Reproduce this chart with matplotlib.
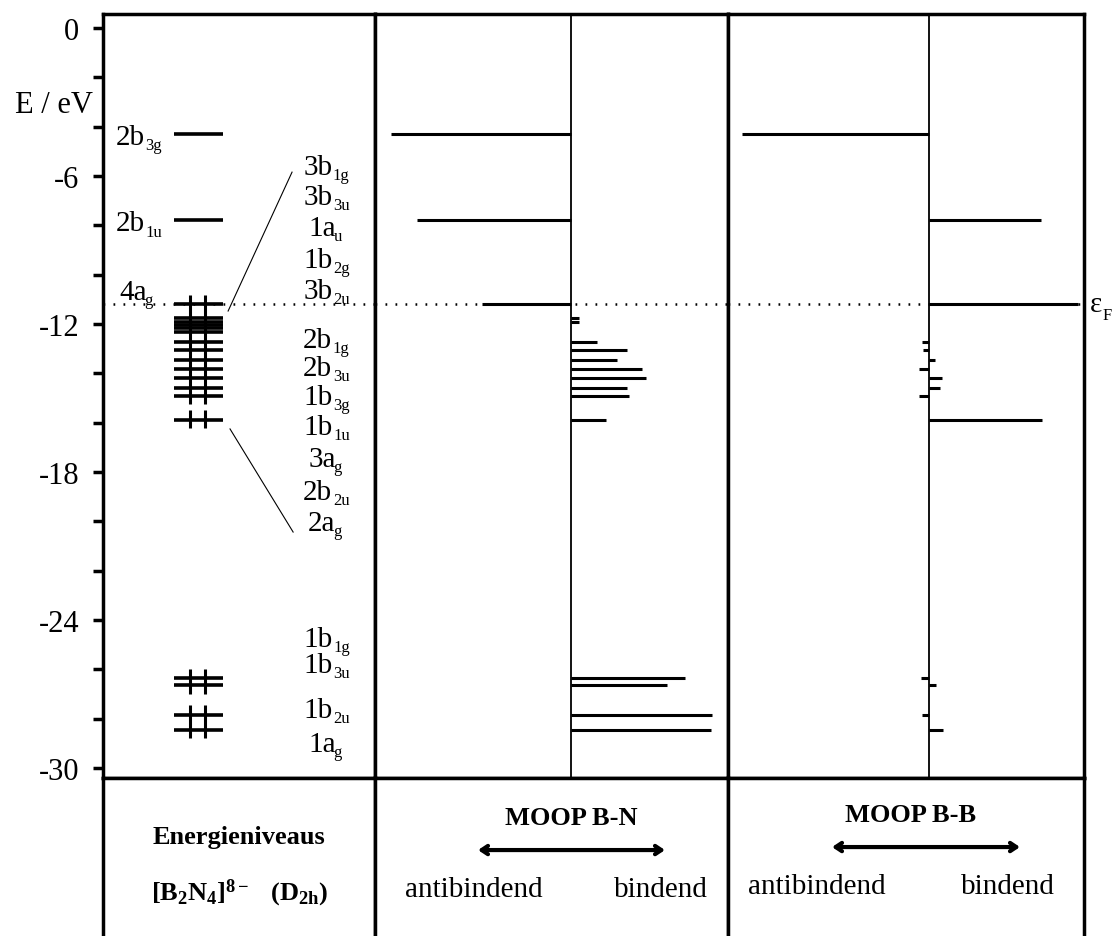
import matplotlib.pyplot as plt
from matplotlib.ticker import MultipleLocator
from matplotlib.transforms import offset_copy

plt.rcParams['font.family'] = ['Liberation Serif', 'DejaVu Serif']
plt.rcParams['mathtext.fontset'] = 'custom'
plt.rcParams['mathtext.rm'] = 'Liberation Serif'
plt.rcParams['mathtext.it'] = 'Liberation Serif:italic'
plt.rcParams['mathtext.bf'] = 'Liberation Serif:bold'

# orbital energies in eV (top to bottom)
energies = [-4.30, -7.80, -11.19, -11.77, -11.90, -12.04, -12.17, -12.33,
            -12.71, -13.07, -13.44, -13.82, -14.17, -14.60, -14.92, -15.87,
            -26.36, -26.65, -27.84, -28.44]
# MOOP contributions (arbitrary units, negative = antibonding)
moop_bn = [-1.80, -1.54, -0.89, 0.08, 0.08, 0.0, 0.0, 0.0,
           0.26, 0.56, 0.46, 0.71, 0.75, 0.56, 0.58, 0.35,
           1.14, 0.96, 1.41, 1.40]
moop_bb = [-1.87, 1.12, 1.49, 0.0, 0.0, 0.0, 0.0, 0.0,
           -0.07, -0.06, 0.06, -0.10, 0.13, 0.11, -0.10, 1.13,
           -0.08, 0.07, -0.07, 0.14]
e_fermi = -11.19

# orbital names
left_names = ['2b_3g', '2b_1u', '4a_g']
left_name_e = [-4.30, -7.80, -10.58]
right_names = ['3b_1g', '3b_3u', '1a_u', '1b_2g', '3b_2u',
               '2b_1g', '2b_3u', '1b_3g', '1b_1u', '3a_g', '2b_2u', '2a_g',
               '1b_1g', '1b_3u', '1b_2u', '1a_g']
right_name_e = [-5.51, -6.73, -7.99, -9.28, -10.54,
                -12.53, -13.66, -14.84, -16.05, -17.35, -18.69, -19.94,
                -24.65, -25.70, -27.52, -28.90]

W, H = 1120, 937
LW = 2.5
FS = 21
SFS = 12
CHAR_W = {'a': 0.444, 'b': 0.5, 'g': 0.5, 'u': 0.5}


def box(x0, x1, y0, y1):
    return [x0 / W, 1 - y1 / H, (x1 - x0) / W, (y1 - y0) / H]


def frame(ax, bottom=True):
    for s in ax.spines.values():
        s.set_linewidth(LW)
    if not bottom:
        ax.spines['bottom'].set_visible(False)


def orb_label(ax, x, y, name, align='center'):
    # main text and a small, lowered subscript glued to its right edge
    main, sub = name.split('_')
    mw = sum(CHAR_W.get(c, 0.5) for c in main) * FS
    sw = sum(CHAR_W.get(c, 0.5) for c in sub) * SFS
    total = mw + sw
    left = -total / 2 if align == 'center' else (-total if align == 'right' else 0)
    tr_main = offset_copy(ax.transData, fig=ax.figure, x=left, y=-7, units='points')
    t = ax.text(x, y, main, transform=tr_main, ha='left', va='baseline', fontsize=FS)
    gap = -1.5 if main.endswith('a') else 0.5
    ax.annotate(sub, xy=(1, 0), xycoords=t, xytext=(gap, 0.5), textcoords='offset points',
                ha='left', va='baseline', fontsize=SFS)


fig = plt.figure(figsize=(11.2, 9.37), dpi=100)

ax_lev = fig.add_axes(box(103, 375, 15, 779))
ax_bn = fig.add_axes(box(375, 728, 15, 779))
ax_bb = fig.add_axes(box(728, 1084, 15, 779))
bot_lev = fig.add_axes(box(103, 375, 779, 937))
bot_bn = fig.add_axes(box(375, 728, 779, 937))
bot_bb = fig.add_axes(box(728, 1084, 779, 937))

ylim = (-30.40, 0.57)

# --- energy levels ---
ax_lev.set_xlim(0, 1)
ax_lev.set_ylim(*ylim)
ax_lev.hlines(energies, 0.261, 0.441, color='k', lw=2.6)

occ = [e for e in energies if e <= e_fermi + 1e-6]
groups = [[occ[0]]]
for e in occ[1:]:
    if groups[-1][-1] - e > 0.8:
        groups.append([e])
    else:
        groups[-1].append(e)
for g in groups:
    for xs in (0.320, 0.375):
        ax_lev.vlines(xs, min(g) - 0.33, max(g) + 0.38, color='k', lw=2.2)

for name, e in zip(left_names[:2], left_name_e[:2]):
    orb_label(ax_lev, 0.215, e, name, align='right')
orb_label(ax_lev, 0.125, left_name_e[2], left_names[2])
for name, e in zip(right_names, right_name_e):
    orb_label(ax_lev, 0.82, e, name)

ax_lev.plot([0.695, 0.46], [-5.84, -11.47], color='k', lw=0.8)
ax_lev.plot([0.467, 0.699], [-16.25, -20.43], color='k', lw=0.8)

ax_lev.yaxis.set_major_locator(MultipleLocator(6))
ax_lev.yaxis.set_minor_locator(MultipleLocator(2))
ax_lev.tick_params(axis='y', which='both', direction='out', length=7, width=LW,
                   labelsize=22, pad=10)
ax_lev.tick_params(axis='x', which='both', bottom=False, labelbottom=False)
ax_lev.set_yticklabels(['%d' % v for v in ax_lev.get_yticks()])
ax_lev.set_ylim(*ylim)
ax_lev.text(-0.035, -3.08, 'E / eV', transform=ax_lev.get_yaxis_transform(),
            ha='right', va='center', fontsize=22)

# --- MOOP panels ---
for ax, vals, xl in ((ax_bn, moop_bn, (-1.96, 1.57)), (ax_bb, moop_bb, (-2.01, 1.55))):
    ax.set_xlim(*xl)
    ax.set_ylim(*ylim)
    ax.axvline(0, color='k', lw=1.3)
    ax.hlines(energies, 0, vals, color='k', lw=2.2)
    ax.set_xticks([])
    ax.set_yticks([])

for ax in (ax_lev, ax_bn, ax_bb):
    ax.axhline(e_fermi, color='k', lw=1.8, ls=(0, (0.7, 3.3)), zorder=0)
    frame(ax)

ax_bb.text(1.61, e_fermi, 'ε', ha='left', va='center', fontsize=FS, clip_on=False)
ax_bb.text(1.74, e_fermi - 0.45, 'F', ha='left', va='center', fontsize=SFS, clip_on=False)

# --- bottom captions ---
for ax, xl in ((bot_lev, (0, 1)), (bot_bn, (-1.96, 1.57)), (bot_bb, (-2.01, 1.55))):
    ax.set_xlim(*xl)
    ax.set_ylim(0, 1)
    ax.set_xticks([])
    ax.set_yticks([])
    frame(ax, bottom=False)

bot_lev.text(0.5, 0.627, 'Energieniveaus', ha='center', va='center', fontsize=19, fontweight='bold')
bot_lev.text(0.5, 0.278, r'$\mathbf{[B_2N_4]^{8-}\ \ \ (D_{2h})}$', ha='center', va='center', fontsize=19)

arrow = dict(arrowstyle='<->,head_length=0.45,head_width=0.3', lw=3, color='k',
             shrinkA=0, shrinkB=0)
bot_bn.text(0.0, 0.753, 'MOOP B-N', ha='center', va='center', fontsize=19, fontweight='bold')
bot_bn.annotate('', xy=(0.94, 0.544), xytext=(-0.93, 0.544), arrowprops=arrow)
bot_bn.text(-0.97, 0.297, 'antibindend', ha='center', va='center', fontsize=21)
bot_bn.text(0.90, 0.297, 'bindend', ha='center', va='center', fontsize=21)

bot_bb.text(-0.18, 0.772, 'MOOP B-B', ha='center', va='center', fontsize=19, fontweight='bold')
bot_bb.annotate('', xy=(0.91, 0.563), xytext=(-0.97, 0.563), arrowprops=arrow)
bot_bb.text(-1.12, 0.316, 'antibindend', ha='center', va='center', fontsize=21)
bot_bb.text(0.79, 0.316, 'bindend', ha='center', va='center', fontsize=21)

fig.savefig('out.png', dpi=100)
